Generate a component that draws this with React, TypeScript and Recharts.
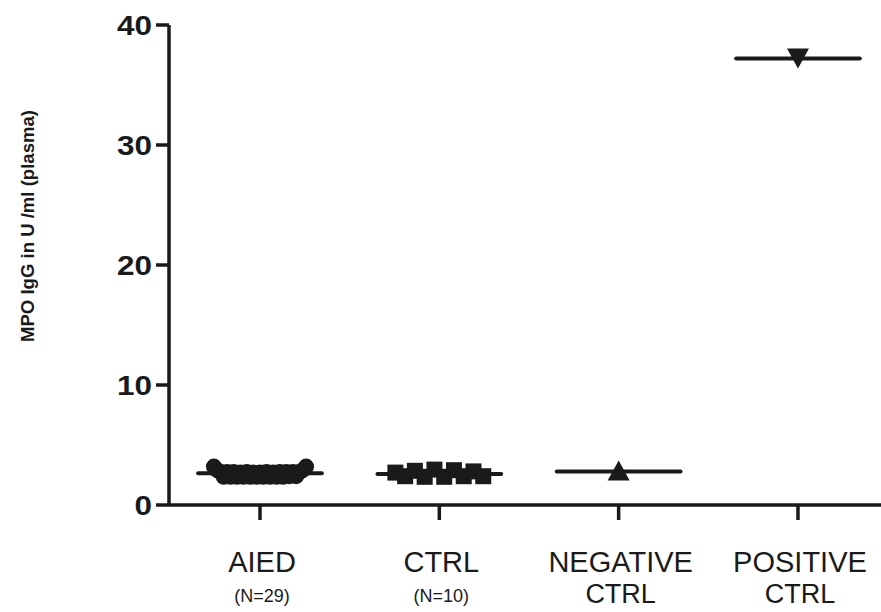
import {
  ScatterChart,
  Scatter,
  XAxis,
  YAxis,
  ReferenceLine,
} from "recharts";

const INK = "#1a1a1a";

const categories = ["AIED", "CTRL", "NEGATIVE", "POSITIVE"];
const subLabels = ["(N=29)", "(N=10)", "CTRL", "CTRL"];

// MPO IgG values, U/ml
const aiedValues = [
  3.2, 2.9, 2.75, 2.35, 2.75, 2.35, 2.75, 2.35, 2.7, 2.35, 2.75, 2.35, 2.7,
  2.35, 2.7, 2.35, 2.75, 2.35, 2.7, 2.35, 2.75, 2.35, 2.75, 2.4, 2.75, 2.4,
  2.75, 2.9, 3.2,
];
const ctrlValues = [2.7, 2.4, 2.85, 2.35, 2.95, 2.35, 2.9, 2.4, 2.8, 2.4];
const negativeValues = [2.8];
const positiveValues = [37.2];
const means = [2.64, 2.58, 2.8, 37.2];

const yTicks = [0, 10, 20, 30, 40];
const xTicks = [1, 2, 3, 4];

const SPREAD = [0.257, 0.245, 0, 0];
const MEAN_HALF = 0.345;

function toPoints(values: number[], idx: number) {
  const n = values.length;
  const half = SPREAD[idx];
  return values.map((v, j) => ({
    x: idx + 1 + (n > 1 ? -half + (j * 2 * half) / (n - 1) : 0),
    y: v,
  }));
}

const Circle = (p: any) => <circle cx={p.cx} cy={p.cy} r={8} fill={INK} />;
const Square = (p: any) => (
  <rect x={p.cx - 8} y={p.cy - 8} width={16} height={16} fill={INK} />
);
const TriUp = (p: any) => (
  <path
    d={`M${p.cx},${p.cy - 11} L${p.cx + 11},${p.cy + 9} L${p.cx - 11},${p.cy + 9} Z`}
    fill={INK}
  />
);
const TriDown = (p: any) => (
  <path
    d={`M${p.cx - 11},${p.cy - 10} L${p.cx + 11},${p.cy - 10} L${p.cx},${p.cy + 10} Z`}
    fill={INK}
  />
);

const XTick = (props: any) => {
  const { x, y, payload } = props;
  const i = payload.value - 1;
  const big = i >= 2;
  return (
    <g>
      <text
        x={x + 2}
        y={y + 50}
        textAnchor="middle"
        fontSize={29}
        fontFamily="Liberation Sans, Arial, sans-serif"
        fill={INK}
      >
        {categories[i]}
      </text>
      <text
        x={x + 2}
        y={y + (big ? 81 : 80)}
        textAnchor="middle"
        fontSize={big ? 27 : 18}
        fontFamily="Liberation Sans, Arial, sans-serif"
        fill={INK}
      >
        {subLabels[i]}
      </text>
    </g>
  );
};

const YTick = (props: any) => {
  const { x, y, payload } = props;
  const s = String(payload.value);
  return (
    <text
      x={x - 2}
      y={y + 10}
      textAnchor="end"
      fontSize={28}
      fontWeight="bold"
      fontFamily="Liberation Sans, Arial, sans-serif"
      fill={INK}
      textLength={s.length * 17.5}
      lengthAdjust="spacingAndGlyphs"
    >
      {s}
    </text>
  );
};

const yLabel = () => (
  <text
    x={34}
    y={226}
    transform="rotate(-90 34 226)"
    textAnchor="middle"
    fontSize={18}
    fontWeight="bold"
    fontFamily="Liberation Sans, Arial, sans-serif"
    fill={INK}
    textLength={232}
    lengthAdjust="spacingAndGlyphs"
  >
    MPO IgG  in U /ml (plasma)
  </text>
);

export default function App() {
  const series = [aiedValues, ctrlValues, negativeValues, positiveValues];
  const shapes = [Circle, Square, TriUp, TriDown];
  return (
    <div style={{ width: 881, height: 612, background: "#fff" }}>
      <style>{`body{margin:0}`}</style>
      <ScatterChart
        width={881}
        height={612}
        margin={{ top: 25, right: 0, bottom: 0, left: 0 }}
      >
        <XAxis
          type="number"
          dataKey="x"
          domain={[0.4926, 4.463]}
          ticks={xTicks}
          allowDataOverflow
          height={107}
          tickSize={15}
          axisLine={{ stroke: INK, strokeWidth: 3.5 }}
          tickLine={{ stroke: INK, strokeWidth: 3.5 }}
          tick={<XTick />}
          interval={0}
        />
        <YAxis
          type="number"
          dataKey="y"
          domain={[0, 40]}
          ticks={yTicks}
          width={169}
          tickSize={13}
          axisLine={{ stroke: INK, strokeWidth: 3.5 }}
          tickLine={{ stroke: INK, strokeWidth: 3.5 }}
          tick={<YTick />}
          label={yLabel}
        />
        {means.map((m, i) => (
          <ReferenceLine
            key={`mean-${i}`}
            segment={[
              { x: i + 1 - MEAN_HALF, y: m },
              { x: i + 1 + MEAN_HALF, y: m },
            ]}
            stroke={INK}
            strokeWidth={4}
            strokeLinecap="round"
          />
        ))}
        {series.map((vals, i) => (
          <Scatter
            key={categories[i]}
            data={toPoints(vals, i)}
            shape={shapes[i]}
            isAnimationActive={false}
          />
        ))}
      </ScatterChart>
    </div>
  );
}
